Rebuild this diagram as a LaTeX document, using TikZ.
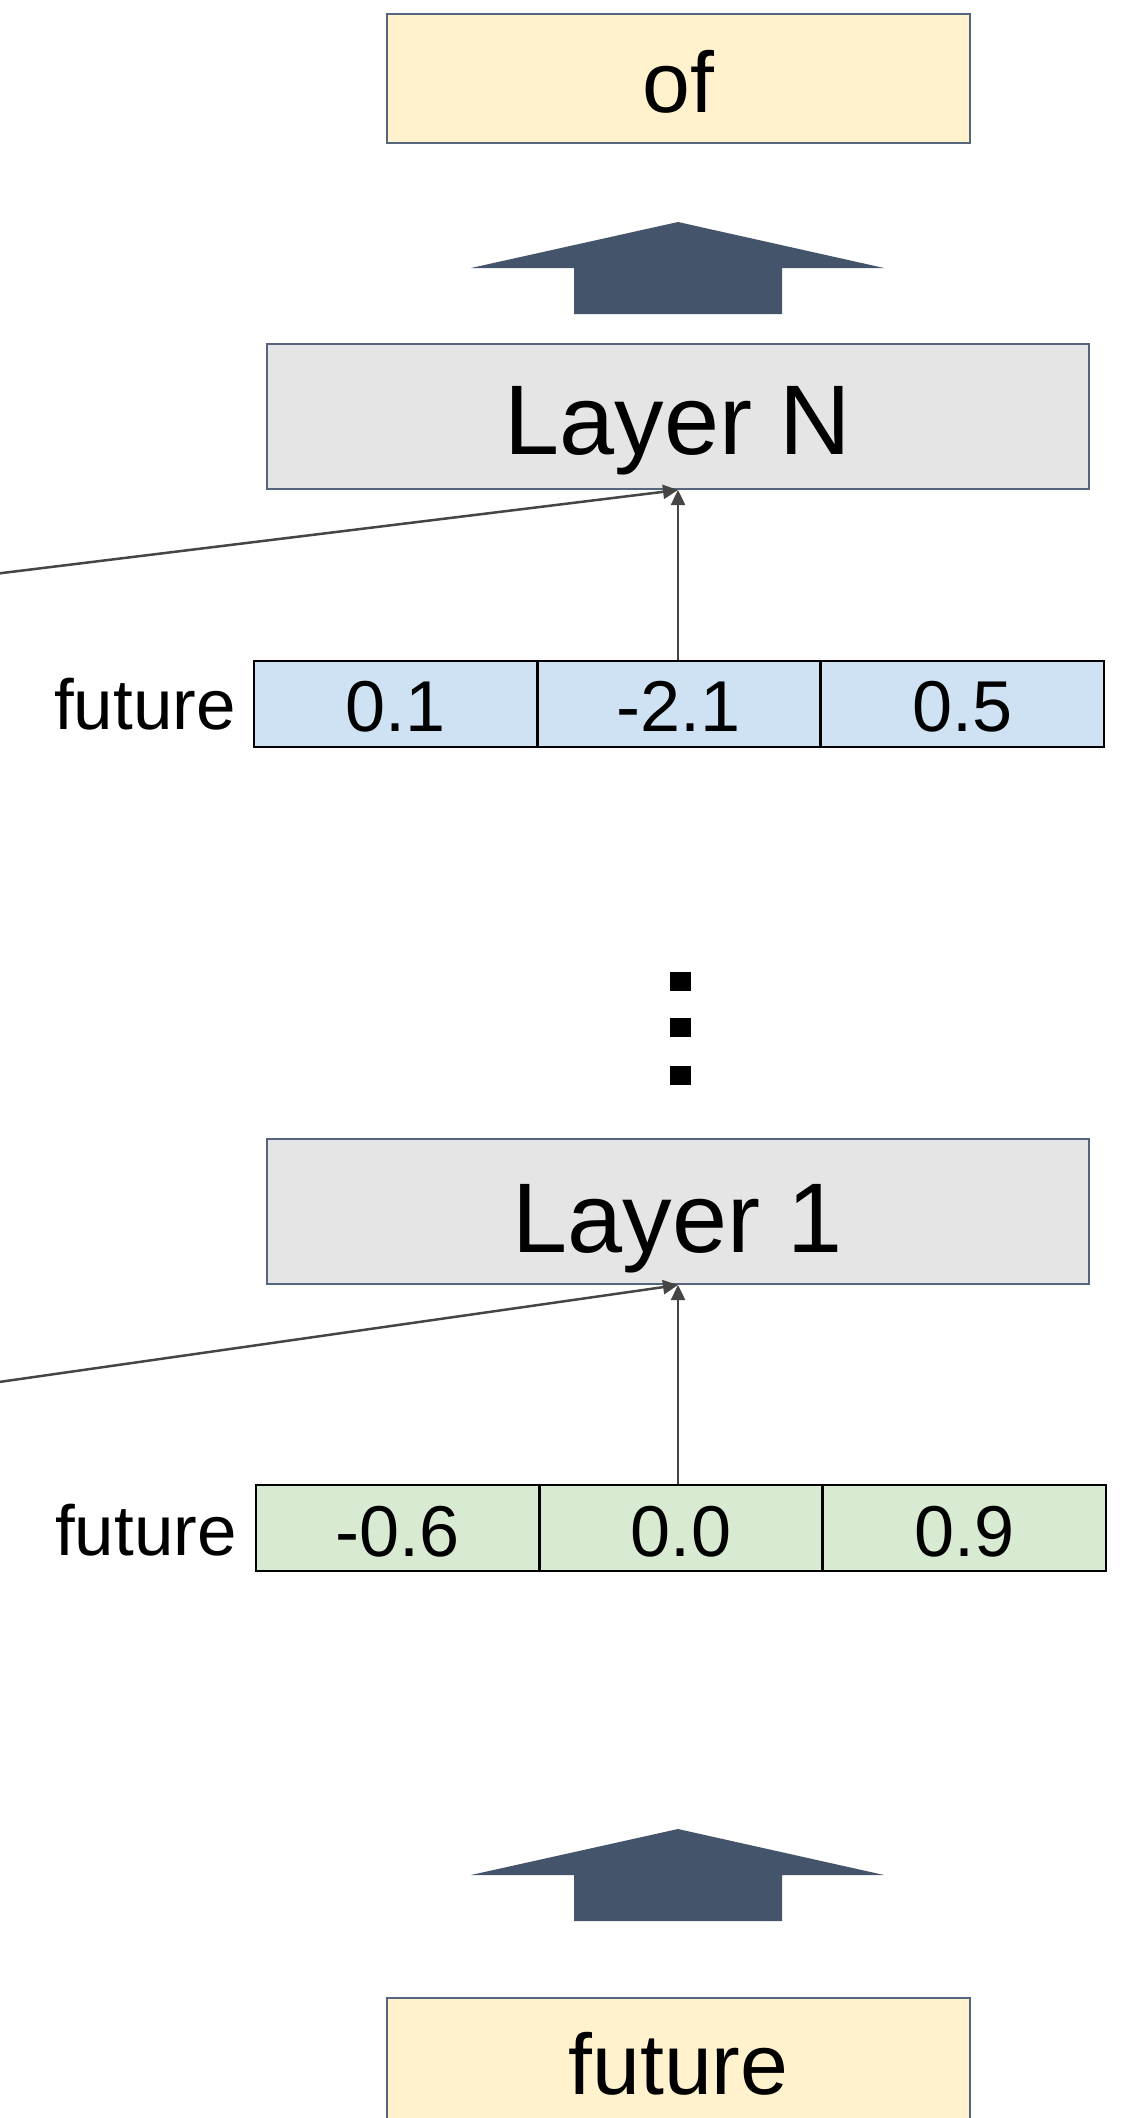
\documentclass[tikz,border=0pt]{standalone}
\usepackage{fontspec}
\setmainfont{Liberation Sans}
\usetikzlibrary{arrows.meta}
\definecolor{tokfill}{HTML}{FFF2CC}
\definecolor{boxline}{HTML}{56657E}
\definecolor{layfill}{HTML}{E5E5E5}
\definecolor{bluefill}{HTML}{CFE2F3}
\definecolor{greenfill}{HTML}{D9EAD3}
\definecolor{bigarrow}{HTML}{44546A}
\definecolor{conn}{HTML}{454545}
\tikzset{
  tokbox/.style={draw=boxline, line width=2pt, fill=tokfill, inner sep=0pt, minimum width=583pt, minimum height=129pt},
  laybox/.style={draw=boxline, line width=2pt, fill=layfill, inner sep=0pt, minimum width=822pt, minimum height=145pt},
  bluecell/.style={draw=black, line width=2.5pt, fill=bluefill, inner sep=0pt, minimum width=283.3pt, minimum height=86pt},
  greencell/.style={draw=black, line width=2.5pt, fill=greenfill, inner sep=0pt, minimum width=283.3pt, minimum height=86pt},
  bigtxt/.style={font=\fontsize{86}{86}\selectfont, inner sep=0pt, anchor=base},
  laytxt/.style={font=\fontsize{99}{99}\selectfont, inner sep=0pt, anchor=base},
  numtxt/.style={font=\fontsize{72}{72}\selectfont, inner sep=0pt, anchor=base},
  lbltxt/.style={font=\fontsize{71}{71}\selectfont, inner sep=0pt, anchor=base east},
  conn/.style={draw=conn, line width=2.5pt, -{Triangle[length=15pt,width=14pt]}},
  blockarrow/.style={fill=bigarrow},
  dotsq/.style={fill=black}
}
\begin{document}
\begin{tikzpicture}[x=1pt,y=-1pt]
\clip (0,0) rectangle (1127,2118);
\fill[white] (0,0) rectangle (1127,2118);

% top token
\node[tokbox] (of) at (678.5,78.5) {};
\node[bigtxt] (oftxt) at (678.5,112) {of};

% top block arrow
\fill[blockarrow] (678,222) -- (884,268) -- (782,268) -- (782,314) -- (574,314) -- (574,268) -- (471,268) -- cycle;

% Layer N
\node[laybox] (layN) at (678,416.5) {};
\node[laytxt] (layNtxt) at (678,454) {Layer N};

% vector N
\node[bluecell] (bA) at (395.7,704) {};
\node[bluecell] (bB) at (679,704) {};
\node[bluecell] (bC) at (962.3,704) {};
\node[numtxt] (bAt) at (395.7,731) {0.1};
\node[numtxt] (bBt) at (679,731) {-2.1};
\node[numtxt] (bCt) at (962.3,731) {0.5};
\node[lbltxt] (lblN) at (236,729) {future};

\coordinate (inN) at (-120,588);
\draw[conn] (inN) -- (layN.south);
\draw[conn] (bB.north -| layN.south) -- (layN.south);

% dots
\fill[dotsq] (670,972) rectangle (691,991);
\fill[dotsq] (670,1018) rectangle (691,1037);
\fill[dotsq] (670,1066) rectangle (691,1085);

% Layer 1
\node[laybox] (lay1) at (678,1211.5) {};
\node[laytxt] (lay1txt) at (678,1252) {Layer 1};

% vector 1
\node[greencell] (gA) at (397.7,1528) {};
\node[greencell] (gB) at (681,1528) {};
\node[greencell] (gC) at (964.3,1528) {};
\node[numtxt] (gAt) at (397.7,1556) {-0.6};
\node[numtxt] (gBt) at (681,1556) {0.0};
\node[numtxt] (gCt) at (964.3,1556) {0.9};
\node[lbltxt] (lbl1) at (237,1555) {future};

\coordinate (in1) at (-120,1399);
\draw[conn] (in1) -- (lay1.south);
\draw[conn] (gB.north -| lay1.south) -- (lay1.south);

% bottom block arrow
\fill[blockarrow] (678,1829) -- (884,1875) -- (782,1875) -- (782,1921) -- (574,1921) -- (574,1875) -- (471,1875) -- cycle;

% bottom token
\node[tokbox] (fut) at (678.5,2062.5) {};
\node[bigtxt] (futtxt) at (678.5,2094) {future};
\end{tikzpicture}
\end{document}
